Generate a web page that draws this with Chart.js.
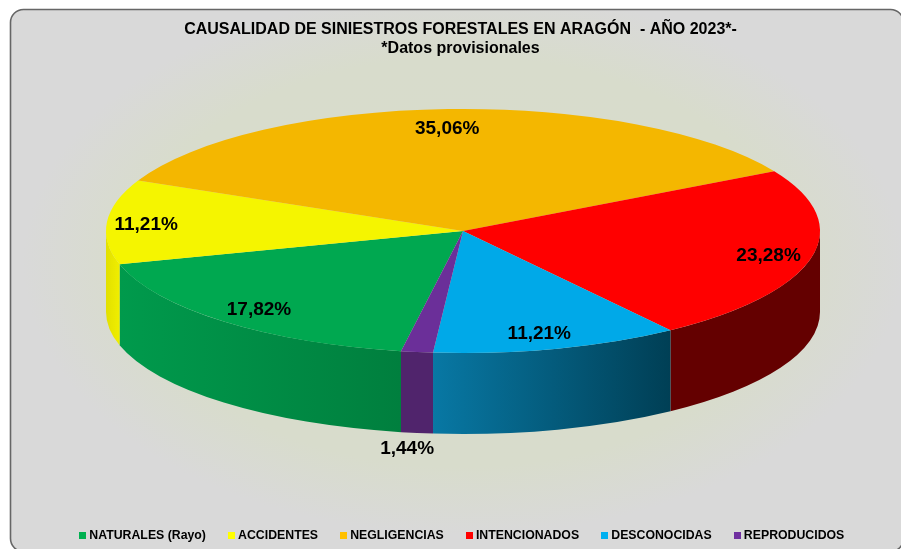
<!DOCTYPE html>
<html>
<head>
<meta charset="utf-8">
<style>html,body{margin:0;padding:0;background:#fff}canvas{display:block}</style>
<script src="https://cdn.jsdelivr.net/npm/chart.js@4/dist/chart.umd.min.js"></script>
</head>
<body>
<canvas id="c" width="901" height="549"></canvas>
<script>
const categories = ['NATURALES (Rayo)', 'ACCIDENTES', 'NEGLIGENCIAS', 'INTENCIONADOS', 'DESCONOCIDAS', 'REPRODUCIDOS'];
const values = [17.82, 11.21, 35.06, 23.28, 11.21, 1.44];
const titleLines = ['CAUSALIDAD DE SINIESTROS FORESTALES EN ARAGÓN  - AÑO 2023*-', '*Datos provisionales'];
const topColors = ['#00A850', '#F5F500', '#F4B700', '#FF0000', '#00A9E8', '#6B2F99'];
const legendColors = ['#00B050', '#FFFF00', '#FFC000', '#FF0000', '#00B0F0', '#7030A0'];
const sideFrom = ['#009A4C', '#E2E000', '#C09000', '#640000', '#0878A4', '#50246C'];
const sideTo = ['#007F3E', '#F0EE00', '#C09000', '#640000', '#003F55', '#50246C'];
const labelRadius = [0.857, 0.89, 0.85, 0.877, 0.86, 1.79];
const labelShift = [1, 0, -3, 0, -5, 26.5];

const FONT = '"Liberation Sans", Arial, sans-serif';
const CENTER_X = 463, CENTER_Y = 231, RX = 357, RY = 122, DEPTH = 81;

function swatch(color) {
  const s = document.createElement('canvas');
  s.width = 7; s.height = 7;
  const g = s.getContext('2d');
  g.fillStyle = color; g.fillRect(0, 0, 7, 7);
  return s;
}

const panel = {
  id: 'panel',
  afterLayout(chart) {
    chart.legend.left += 3;
    chart.legend.right += 3;
  },
  beforeDraw(chart) {
    const ctx = chart.ctx;
    ctx.save();
    ctx.fillStyle = '#fff';
    ctx.fillRect(0, 0, chart.width, chart.height);
    const g = ctx.createRadialGradient(0, 0, 0, 0, 0, 440);
    g.addColorStop(0, '#D8DCCB');
    g.addColorStop(0.75, '#D8DCCC');
    g.addColorStop(1, '#D9D9D9');
    ctx.fillStyle = g;
    ctx.beginPath();
    ctx.roundRect(10.5, 9.5, 893, 542, 13);
    ctx.setTransform(1, 0, 0, 0.62, CENTER_X, 262);
    ctx.fill();
    ctx.setTransform(1, 0, 0, 1, 0, 0);
    ctx.strokeStyle = '#666';
    ctx.lineWidth = 1.6;
    ctx.stroke();
    ctx.restore();
  }
};

function norm(a) { const t = Math.PI * 2; return ((a % t) + t) % t; }

const pie3d = {
  id: 'pie3d',
  beforeDatasetDraw(chart, args) {
    const ctx = chart.ctx;
    const arcs = args.meta.data;
    arcs.forEach((arc, i) => {
      const span = arc.endAngle - arc.startAngle;
      const s = norm(arc.startAngle), e = s + span;
      [[s, e], [s - Math.PI * 2, e - Math.PI * 2]].forEach(([a, b]) => {
        const from = Math.max(a, 0), to = Math.min(b, Math.PI);
        if (to <= from) return;
        const x1 = CENTER_X + RX * Math.cos(from), x2 = CENTER_X + RX * Math.cos(to);
        const g = ctx.createLinearGradient(Math.min(x1, x2), 0, Math.max(x1, x2), 0);
        g.addColorStop(0, sideFrom[i]);
        g.addColorStop(1, sideTo[i]);
        ctx.fillStyle = g;
        ctx.beginPath();
        ctx.ellipse(CENTER_X, CENTER_Y, RX, RY, 0, from, to);
        ctx.ellipse(CENTER_X, CENTER_Y + DEPTH, RX, RY, 0, to, from, true);
        ctx.closePath();
        ctx.fill();
      });
    });
    const first = arcs[0];
    ctx.save();
    ctx.translate(CENTER_X, CENTER_Y);
    ctx.scale(1, RY / RX);
    ctx.translate(-first.x, -first.y);
  },
  afterDatasetDraw(chart) {
    chart.ctx.restore();
  },
  afterDatasetsDraw(chart) {
    const ctx = chart.ctx;
    ctx.save();
    ctx.font = 'bold 19px ' + FONT;
    ctx.fillStyle = '#000';
    ctx.textAlign = 'center';
    ctx.textBaseline = 'middle';
    chart.getDatasetMeta(0).data.forEach((arc, i) => {
      const mid = (arc.startAngle + arc.endAngle) / 2;
      const x = CENTER_X + RX * labelRadius[i] * Math.cos(mid) + labelShift[i];
      const y = CENTER_Y + 1.5 + RY * labelRadius[i] * Math.sin(mid);
      ctx.fillText(values[i].toFixed(2).replace('.', ',') + '%', x, y);
    });
    ctx.restore();
  }
};

new Chart(document.getElementById('c'), {
  type: 'pie',
  data: {
    labels: categories,
    datasets: [{ data: values, backgroundColor: topColors, borderWidth: 0, clip: false }]
  },
  plugins: [panel, pie3d],
  options: {
    responsive: false,
    animation: false,
    rotation: 190,
    radius: RX,
    layout: { padding: { left: 20, right: 0, top: 0, bottom: -2.4 } },
    plugins: {
      tooltip: { enabled: false },
      title: {
        display: true,
        text: titleLines,
        color: '#000',
        font: { family: FONT, size: 16, weight: 'bold', lineHeight: 1.2 },
        padding: { top: 20, bottom: 0 }
      },
      legend: {
        position: 'bottom',
        labels: {
          color: '#000',
          font: { family: FONT, size: 12.3, weight: 'bold' },
          padding: 25.5,
          usePointStyle: true,
          pointStyleWidth: 0.5,
          boxHeight: 7,
          generateLabels(chart) {
            return categories.map((text, i) => ({
              text, index: i, fillStyle: legendColors[i], strokeStyle: legendColors[i],
              lineWidth: 0, hidden: false, pointStyle: swatch(legendColors[i])
            }));
          }
        }
      }
    }
  }
});
</script>
</body>
</html>
